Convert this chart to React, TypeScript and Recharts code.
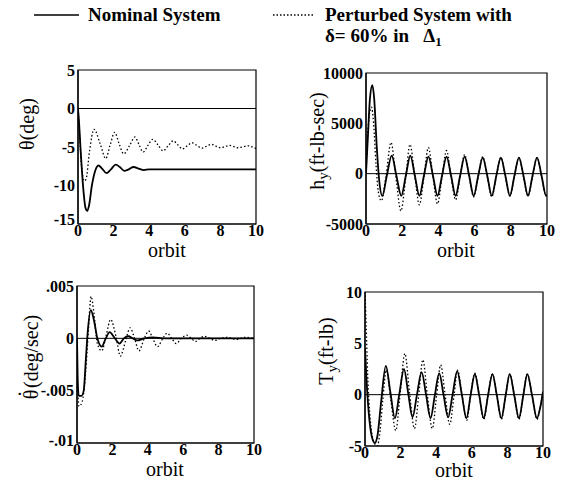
import React from "react"
import { LineChart, Line, XAxis, YAxis, ReferenceLine, ReferenceArea } from "recharts"

// theta (deg)
const thetaNomX = [0, 0.05, 0.15, 0.3, 0.42, 0.52, 0.62, 0.78, 0.95, 1.15, 1.35, 1.6, 1.85, 2.12, 2.35, 2.6, 2.85, 3.12, 3.4, 3.7, 4.0, 5, 6, 7, 8, 9, 10]
const thetaNomY = [0, -1.5, -5.5, -10.5, -12.9, -13.3, -12.6, -10, -8.2, -7.4, -7.8, -8.4, -7.9, -7.3, -7.6, -8.1, -7.9, -7.6, -7.8, -8.0, -7.9, -7.9, -7.9, -7.9, -7.9, -7.9, -7.9]
const thetaPerX = [0, 0.08, 0.2, 0.35, 0.45, 0.65, 0.9, 1.25, 1.56, 1.8, 2.06, 2.3, 2.57, 2.9, 3.2, 3.43, 3.66, 3.93, 4.2, 4.5, 4.78, 5.06, 5.35, 5.6, 5.87, 6.13, 6.4, 6.68, 6.95, 7.22, 7.5, 7.75, 8.0, 8.25, 8.5, 8.75, 9.0, 9.3, 9.6, 9.8, 10]
const thetaPerY = [0, -3, -7.5, -9.4, -9.2, -5.5, -2.7, -4.6, -6.5, -4.8, -3.1, -4.5, -5.9, -4.8, -3.7, -4.7, -5.65, -4.8, -4.0, -4.75, -5.5, -4.85, -4.2, -4.7, -5.25, -4.85, -4.45, -4.8, -5.15, -4.9, -4.65, -4.9, -5.1, -4.95, -4.8, -4.95, -5.1, -4.95, -4.85, -5.0, -5.2]

// h_y (ft-lb-sec)
const hyNomX = [0, 0.1, 0.22, 0.35, 0.45, 0.6, 0.72, 0.9, 1.15, 1.42, 1.68, 1.95, 2.2, 2.45, 2.7, 2.95, 3.2, 3.45, 3.7, 3.95, 4.2, 4.45, 4.7, 4.95, 5.2, 5.45, 5.7, 5.95, 6.2, 6.45, 6.7, 6.95, 7.2, 7.45, 7.7, 7.95, 8.2, 8.45, 8.7, 8.95, 9.2, 9.45, 9.7, 9.95, 10]
const hyNomY = [0, 3500, 7500, 8800, 7500, 2500, -500, -2200, -200, 1800, -200, -2200, -200, 1800, -200, -2200, -200, 1700, -200, -2200, -200, 1700, -200, -2200, -200, 1700, -200, -2200, -200, 1600, -200, -2200, -200, 1600, -200, -2200, -200, 1600, -200, -2200, -200, 1600, -200, -2200, -2100]
const hyPerX = [0, 0.08, 0.2, 0.3, 0.42, 0.55, 0.68, 0.85, 1.1, 1.38, 1.65, 1.93, 2.2, 2.43, 2.7, 2.95, 3.2, 3.45, 3.7, 3.95, 4.2, 4.45, 4.7, 4.95, 5.2, 5.45, 5.7, 5.95, 6.2, 6.45, 6.7, 6.95, 7.2, 7.45, 7.7, 7.95, 8.2, 8.45, 8.7, 8.95, 9.2, 9.45, 9.7, 9.95, 10]
const hyPerY = [0, 3500, 6000, 6600, 5000, 1000, -1800, -2700, -300, 3100, -300, -3700, -300, 2900, -300, -3100, -300, 2600, -300, -3000, -300, 2300, -300, -2600, -300, 1900, -300, -2300, -300, 1700, -300, -2300, -300, 1600, -300, -2200, -300, 1600, -300, -2200, -300, 1600, -300, -2200, -2100]

// theta dot (deg/sec)
const tdNomX = [0, 0.04, 0.1, 0.25, 0.38, 0.5, 0.6, 0.78, 0.95, 1.15, 1.4, 1.6, 1.85, 2.1, 2.4, 2.65, 2.9, 3.15, 3.4, 3.8, 4.3, 5, 6, 7, 8, 9, 10]
const tdNomY = [0, -0.004, -0.0055, -0.0055, -0.005, -0.002, 0.0005, 0.0027, 0.0018, 0, -0.0008, -0.0001, 0.0006, 0.0001, -0.0005, 0, 0.0002, 0, -0.0002, 0, 0.0001, 0, 0, 0, 0, 0, 0]
const tdPerX = [0, 0.04, 0.12, 0.3, 0.45, 0.6, 0.8, 0.95, 1.15, 1.4, 1.65, 1.9, 2.2, 2.45, 2.75, 3.0, 3.25, 3.5, 3.8, 4.05, 4.3, 4.55, 4.85, 5.1, 5.35, 5.6, 5.9, 6.2, 6.45, 6.7, 6.95, 7.2, 7.5, 7.8, 8.1, 8.5, 9, 9.5, 10]
const tdPerY = [0, -0.005, -0.0065, -0.006, -0.004, -0.0005, 0.004, 0.0025, -0.0005, -0.0012, 0.0003, 0.0018, 0.0002, -0.0017, -0.0002, 0.001, 0, -0.0012, 0, 0.0007, -0.0001, -0.0008, 0, 0.0005, 0, -0.0005, 0, 0.0003, 0, -0.0003, 0, 0.0002, 0, -0.0002, 0, 0.0001, -0.0001, 0.0001, 0]

// T_y (ft-lb)
const tyNomX = [0, 0.1, 0.25, 0.4, 0.55, 0.7, 0.9, 1.17, 1.42, 1.68, 1.93, 2.19, 2.43, 2.67, 2.92, 3.18, 3.43, 3.68, 3.92, 4.17, 4.42, 4.67, 4.92, 5.18, 5.44, 5.7, 5.93, 6.17, 6.42, 6.67, 6.91, 7.16, 7.41, 7.66, 7.9, 8.13, 8.39, 8.65, 8.89, 9.12, 9.39, 9.66, 9.85, 10]
const tyNomY = [4.5, 1, -2.5, -4.2, -4.7, -4.0, -0.8, 2.8, 0.3, -2.3, 0.1, 2.5, 0.1, -2.2, 0, 2.2, 0, -2.3, -0.1, 2.1, -0.1, -2.2, 0, 2.3, 0, -2.3, -0.1, 2.0, -0.1, -2.3, -0.1, 2.0, -0.1, -2.3, -0.1, 2.0, -0.1, -2.3, -0.1, 2.0, -0.1, -2.3, -1.2, 0.3]
const tyPerX = [0, 0.06, 0.15, 0.3, 0.5, 0.68, 0.85, 1.0, 1.2, 1.45, 1.73, 1.98, 2.24, 2.5, 2.78, 3.02, 3.25, 3.5, 3.78, 4.02, 4.25, 4.5, 4.76, 5.0, 5.2, 5.45, 5.72, 5.93, 6.17, 6.42, 6.67, 6.91, 7.16, 7.41, 7.66, 7.9, 8.13, 8.39, 8.65, 8.89, 9.12, 9.39, 9.66, 9.85, 10]
const tyPerY = [10, 7, 2, -2.5, -4.6, -5.0, -3.5, -0.5, 2.4, -0.5, -3.5, 0.2, 4.0, 0.2, -3.3, 0, 3.4, 0, -3.3, -0.1, 2.9, 0, -2.9, -0.1, 2.4, 0, -2.5, -0.1, 2.1, -0.1, -2.4, -0.1, 2.0, -0.1, -2.4, -0.1, 2.0, -0.1, -2.4, -0.1, 2.0, -0.1, -2.4, -1.2, 0.3]

const xTicks = [0, 2, 4, 6, 8, 10]

const zip = (xs: number[], ys: number[]) => xs.map((x, i) => ({ x, y: ys[i] }))

const FONT = "'Liberation Serif', 'Times New Roman', serif"

function XTitle({ tx, ty }: { tx: number; ty: number; [k: string]: unknown }) {
  return (
    <text x={tx} y={ty} textAnchor="middle" fontFamily={FONT} fontSize={20} fill="#000">orbit</text>
  )
}

function YTitle({ tx, ty, children }: { tx: number; ty: number; children?: React.ReactNode; [k: string]: unknown }) {
  return (
    <text x={tx} y={ty} transform={`rotate(-90, ${tx}, ${ty})`} textAnchor="middle" dominantBaseline="central"
      fontFamily={FONT} fontSize={20} fill="#000">{children}</text>
  )
}

// y tick; the lowest label sits a little raised like in the printed figure
function YTick(props: any) {
  const { x, y, payload, fmt, low, lift } = props
  const v = payload.value as number
  return (
    <text x={x} y={v === low ? y - lift : y} textAnchor="end" dominantBaseline="central"
      fontFamily={FONT} fontSize={16} fontWeight="bold" fill="#000">
      {fmt ? fmt(v) : String(v)}
    </text>
  )
}

function XTick(props: any) {
  const { x, y, payload } = props
  return (
    <text x={x} y={y + 12} textAnchor="middle" fontFamily={FONT} fontSize={16} fontWeight="bold" fill="#000">
      {payload.value}
    </text>
  )
}

interface PanelProps {
  left: number; top: number; width: number; height: number
  mTop: number; mRight: number; yWidth: number; xHeight: number
  domain: [number, number]; ticks: number[]; fmt?: (v: number) => string; lift?: number
  nominal: { x: number; y: number }[]; perturbed: { x: number; y: number }[]
  title: React.ReactNode; yt: [number, number]; xt: [number, number]
}

function Panel(p: PanelProps) {
  return (
    <div style={{ position: "absolute", left: p.left, top: p.top }}>
      <LineChart width={p.width} height={p.height + 14} margin={{ top: p.mTop, right: p.mRight, left: 0, bottom: 14 }}>
        <XAxis type="number" dataKey="x" domain={[0, 10]} ticks={xTicks} interval={0} allowDataOverflow
          height={p.xHeight} tickLine={false} tickSize={0} tickMargin={0} tick={<XTick />}
          axisLine={{ stroke: "#000", strokeWidth: 1.2 }}
          label={<XTitle tx={p.xt[0]} ty={p.xt[1]} />} />
        <YAxis type="number" domain={p.domain} ticks={p.ticks} interval={0} allowDataOverflow
          width={p.yWidth} tickLine={false} tickSize={0} tickMargin={3}
          tick={<YTick fmt={p.fmt} low={p.domain[0]} lift={p.lift ?? 0} />}
          axisLine={{ stroke: "#000", strokeWidth: 1.2 }}
          label={<YTitle tx={p.yt[0]} ty={p.yt[1]}>{p.title}</YTitle>} />
        <ReferenceArea x1={0} x2={10} y1={p.domain[0]} y2={p.domain[1]} fill="none" fillOpacity={0}
          stroke="#000" strokeWidth={1.2} />
        <ReferenceLine y={0} stroke="#000" strokeWidth={1} />
        <Line data={p.nominal} dataKey="y" type="monotone" stroke="#000" strokeWidth={1.8}
          dot={false} isAnimationActive={false} />
        <Line data={p.perturbed} dataKey="y" type="monotone" stroke="#000" strokeWidth={1.3}
          strokeDasharray="1.5 2.2" dot={false} isAnimationActive={false} />
      </LineChart>
    </div>
  )
}

const fmtDot = (v: number) => (v === 0 ? "0" : v.toString().replace("0.", "."))

export default function App() {
  return (
    <div style={{ position: "absolute", left: 0, top: 0, width: 562, height: 489, background: "#fff" }}>
      <svg width={562} height={56} style={{ position: "absolute", left: 0, top: 0 }}>
        <line x1={34} x2={79} y1={15} y2={15} stroke="#000" strokeWidth={1.5} />
        <text x={88} y={21} fontFamily={FONT} fontSize={19} fontWeight="bold">Nominal System</text>
        <line x1={273} x2={315} y1={15} y2={15} stroke="#000" strokeWidth={1.3} strokeDasharray="1.5 2" />
        <text x={325} y={21} fontFamily={FONT} fontSize={19} fontWeight="bold">Perturbed System with</text>
        <text x={325} y={42} fontFamily={FONT} fontSize={19} fontWeight="bold">
          {"δ= 60% in\u00a0\u00a0\u00a0Δ"}<tspan dy={4} fontSize={13}>1</tspan>
        </text>
      </svg>
      <Panel left={0} top={60} width={270} height={200} mTop={10} mRight={14} yWidth={78} xHeight={36}
        domain={[-15, 5]} ticks={[-15, -10, -5, 0, 5]} lift={5}
        nominal={zip(thetaNomX, thetaNomY)} perturbed={zip(thetaPerX, thetaPerY)}
        title="θ(deg)" yt={[27, 64]} xt={[167, 197]} />
      <Panel left={280} top={60} width={281} height={200} mTop={13} mRight={14} yWidth={86} xHeight={36}
        domain={[-5000, 10000]} ticks={[-5000, 0, 5000, 10000]}
        nominal={zip(hyNomX, hyNomY)} perturbed={zip(hyPerX, hyPerY)}
        title={<>h<tspan dy={6} fontSize={15}>y</tspan><tspan dy={-6}>(ft-lb-sec)</tspan></>}
        yt={[37, 81]} xt={[176, 197]} />
      <Panel left={0} top={276} width={268} height={200} mTop={10} mRight={14} yWidth={77} xHeight={33}
        domain={[-0.01, 0.005]} ticks={[-0.01, -0.005, 0, 0.005]} fmt={fmtDot} lift={3}
        nominal={zip(tdNomX, tdNomY)} perturbed={zip(tdPerX, tdPerY)}
        title={<>θ<tspan dx={-7.5} dy={-11}>·</tspan><tspan dx={2.5} dy={11}>(deg/sec)</tspan></>}
        yt={[31, 81]} xt={[165, 200]} />
      <Panel left={280} top={276} width={277} height={200} mTop={16} mRight={14} yWidth={85} xHeight={30}
        domain={[-5, 10]} ticks={[-5, 0, 5, 10]}
        nominal={zip(tyNomX, tyNomY)} perturbed={zip(tyPerX, tyPerY)}
        title={<>T<tspan dy={6} fontSize={15}>y</tspan><tspan dy={-6}>(ft-lb)</tspan></>}
        yt={[46, 75]} xt={[174, 201]} />
    </div>
  )
}
